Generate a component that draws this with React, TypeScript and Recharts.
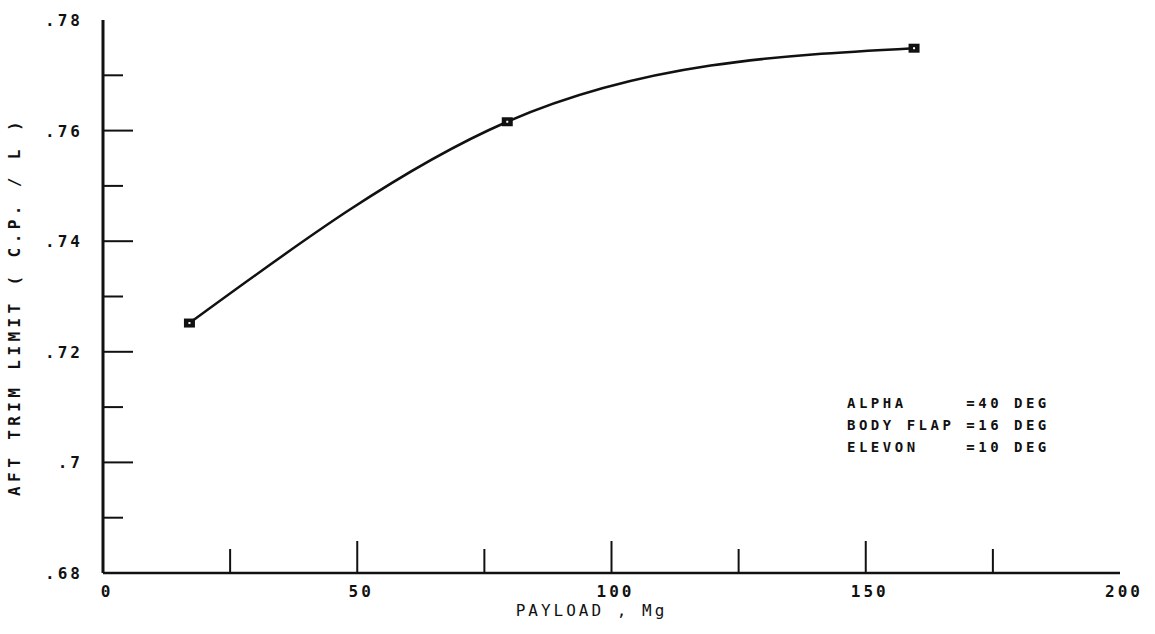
import React from "react";
import { Label, Line, LineChart, XAxis, YAxis } from "recharts";

const payload = [17, 79.5, 159.5];
const aftLimit = [0.7252, 0.7616, 0.7749];

const xTicks = [0, 25, 50, 75, 100, 125, 150, 175, 200];
const yTicks = [0.68, 0.69, 0.7, 0.71, 0.72, 0.73, 0.74, 0.75, 0.76, 0.77, 0.78];

const legendRows = [
  { name: "ALPHA", value: "=40 DEG" },
  { name: "BODY FLAP", value: "=16 DEG" },
  { name: "ELEVON", value: "=10 DEG" },
];

const data = payload.map((p, i) => ({ payload: p, limit: aftLimit[i] }));

const FONT = "'DejaVu Sans Mono', monospace";
const INK = "#111";

// smooth hermite spline, like the old plotter's curve fit:
// interior slopes are weighted averages, end slopes as in a monotone cubic
function plotterCurve(context: any) {
  let xs: number[] = [];
  let ys: number[] = [];
  return {
    areaStart() {},
    areaEnd() {},
    lineStart() {
      xs = [];
      ys = [];
    },
    lineEnd() {
      const n = xs.length;
      if (!n) return;
      context.moveTo(xs[0], ys[0]);
      if (n === 2) {
        context.lineTo(xs[1], ys[1]);
        return;
      }
      const h: number[] = [];
      const s: number[] = [];
      for (let i = 0; i < n - 1; i++) {
        h.push(xs[i + 1] - xs[i]);
        s.push((ys[i + 1] - ys[i]) / h[i]);
      }
      const t: number[] = new Array(n).fill(0);
      for (let i = 1; i < n - 1; i++) {
        t[i] = (s[i - 1] * h[i] + s[i] * h[i - 1]) / (h[i - 1] + h[i]);
      }
      t[0] = (3 * s[0] - t[1]) / 2;
      t[n - 1] = (3 * s[n - 2] - t[n - 2]) / 2;
      for (let i = 0; i < n - 1; i++) {
        const d = h[i] / 3;
        context.bezierCurveTo(xs[i] + d, ys[i] + t[i] * d, xs[i + 1] - d, ys[i + 1] - t[i + 1] * d, xs[i + 1], ys[i + 1]);
      }
    },
    point(x: number, y: number) {
      xs.push(+x);
      ys.push(+y);
    },
  };
}

function XTick(props: any) {
  const { x, y, payload: tick } = props;
  const v = tick.value;
  const major = v % 50 === 0;
  const edge = v === 0 || v === 200;
  return (
    <g>
      {!edge && <line x1={x} x2={x} y1={y} y2={y - (major ? 32 : 24)} stroke={INK} strokeWidth={2} />}
      {major && (
        <text x={x + 4} y={y + 24} textAnchor="middle" fontFamily={FONT} fontWeight="bold" fontSize={16} letterSpacing={3} fill={INK}>
          {String(v)}
        </text>
      )}
    </g>
  );
}

function YTick(props: any) {
  const { x, y, payload: tick } = props;
  const v = tick.value;
  const hundredths = Math.round(v * 100);
  const major = hundredths % 2 === 0;
  const edge = hundredths === 68 || hundredths === 78;
  const label = "." + String(hundredths).replace(/0$/, "");
  return (
    <g>
      {!edge && <line x1={x} x2={x + (major ? 30 : 20)} y1={y} y2={y} stroke={INK} strokeWidth={2} />}
      {major && (
        <text x={x - 20} y={y + 6} textAnchor="end" fontFamily={FONT} fontWeight="bold" fontSize={16} letterSpacing={3} fill={INK}>
          {label}
        </text>
      )}
    </g>
  );
}

function Marker(props: any) {
  const { cx, cy } = props;
  if (cx == null || cy == null) return null;
  return (
    <g>
      <rect x={cx - 5.5} y={cy - 4.5} width={11} height={9} fill={INK} />
      <rect x={cx - 1} y={cy - 1} width={2} height={2} fill="#fff" />
    </g>
  );
}

export default function App() {
  return (
    <div style={{ position: "absolute", left: 0, top: 0, width: 1155, height: 634, background: "#fff" }}>
      <LineChart width={1155} height={634} data={data} margin={{ top: 20, right: 35, left: 0, bottom: 0 }}>
        <XAxis
          dataKey="payload"
          type="number"
          domain={[0, 200]}
          ticks={xTicks}
          interval={0}
          height={61}
          tickSize={0}
          tickMargin={0}
          tickLine={false}
          axisLine={{ stroke: INK, strokeWidth: 2.5 }}
          tick={<XTick />}
        >
          <Label value="PAYLOAD , Mg" position="insideBottom" offset={18} dx={-20} fontFamily={FONT} fontSize={16} letterSpacing={3} fill={INK} />
        </XAxis>
        <XAxis xAxisId="top" orientation="top" type="number" domain={[0, 200]} height={0} tick={false} tickLine={false} axisLine={{ stroke: "#666", strokeWidth: 1.5 }} />
        <YAxis
          type="number"
          domain={[0.68, 0.78]}
          ticks={yTicks}
          interval={0}
          width={103}
          tickSize={0}
          tickMargin={0}
          tickLine={false}
          axisLine={{ stroke: INK, strokeWidth: 3 }}
          tick={<YTick />}
        >
          <Label
            value="AFT TRIM LIMIT ( C.P. / L )"
            angle={-90}
            position="insideLeft"
            offset={14}
            dy={10}
            fontFamily={FONT}
            fontWeight="bold"
            fontSize={16}
            letterSpacing={4.4}
            fill={INK}
            style={{ textAnchor: "middle" }}
          />
        </YAxis>
        <YAxis yAxisId="right" orientation="right" type="number" domain={[0.68, 0.78]} width={0} tick={false} tickLine={false} axisLine={{ stroke: INK, strokeWidth: 3 }} />
        <Line
          type={plotterCurve as any}
          dataKey="limit"
          stroke={INK}
          strokeWidth={2.5}
          dot={<Marker />}
          activeDot={false}
          isAnimationActive={false}
        />
      </LineChart>
      <div
        style={{
          position: "absolute",
          left: 847,
          top: 392,
          fontFamily: FONT,
          fontWeight: "bold",
          fontSize: 14,
          letterSpacing: 3.5,
          lineHeight: "22px",
          color: INK,
          whiteSpace: "pre",
        }}
      >
        {legendRows.map((r) => (
          <div key={r.name}>{r.name.padEnd(10, " ") + r.value}</div>
        ))}
      </div>
    </div>
  );
}
